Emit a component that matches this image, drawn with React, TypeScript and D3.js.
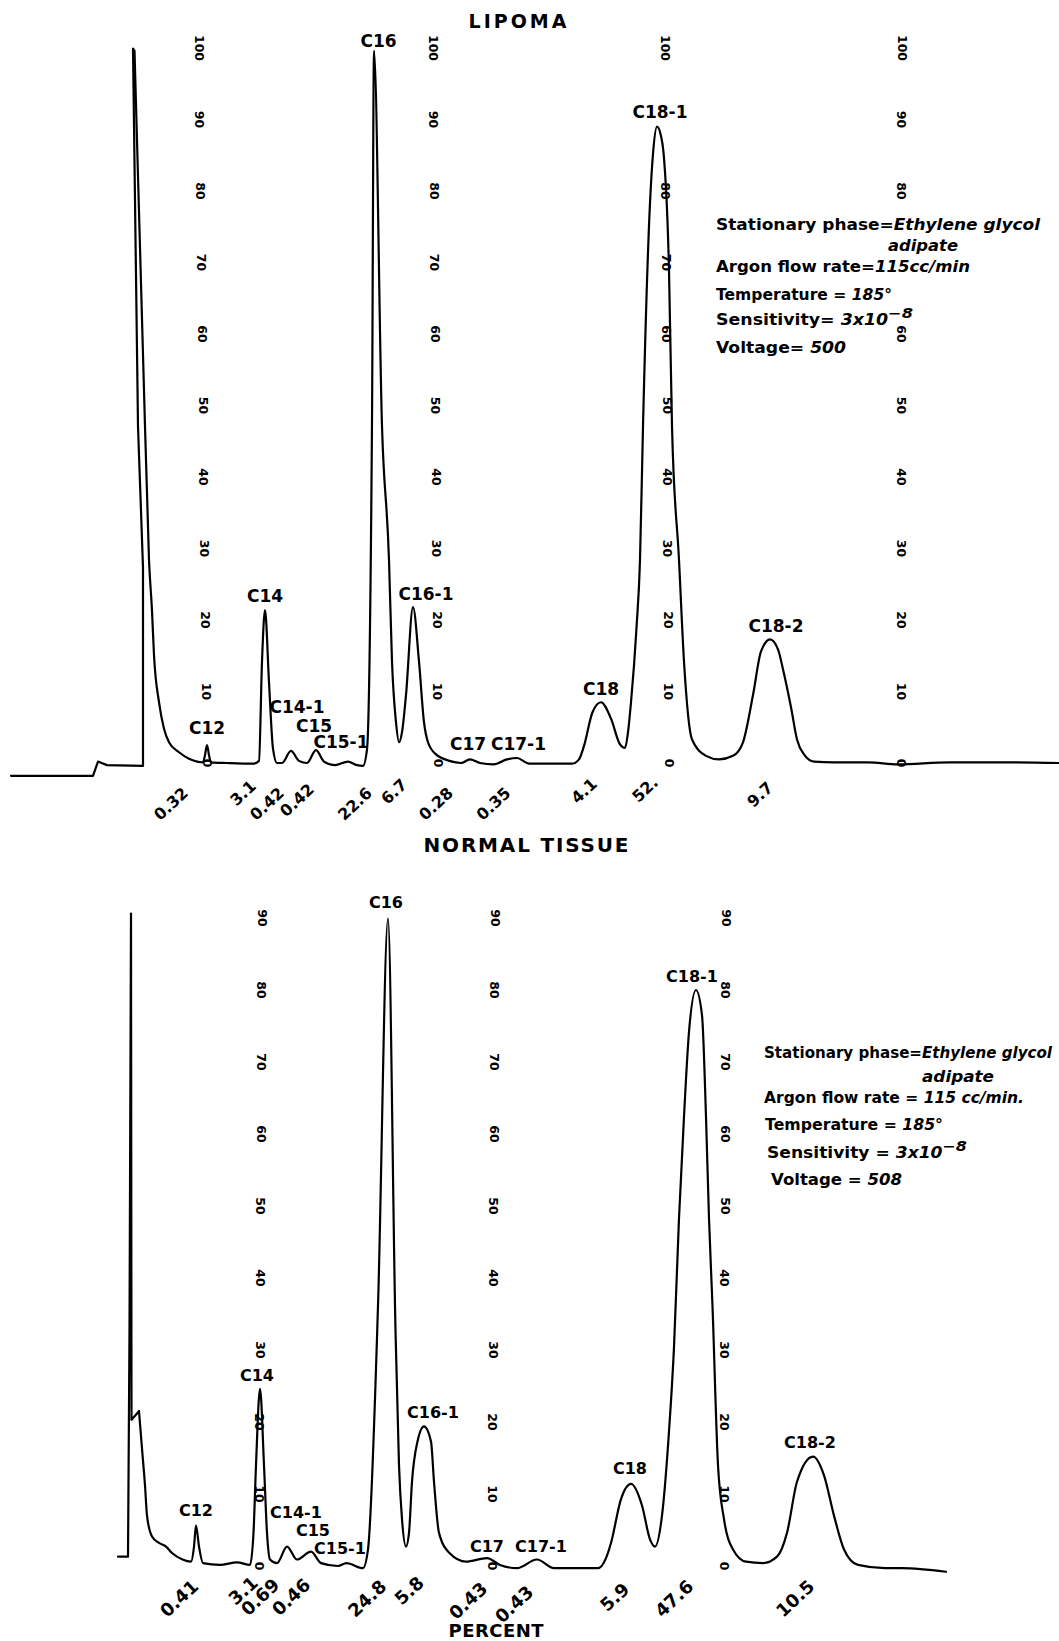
import React from "react";
import * as d3 from "d3";

// ---------- data (retention in chart divisions, response in scale units) ----------
// pen trace up to the solvent front (drawn with straight strokes)
const lipomaFront: [number, number][] = [
  [0.1, -1.8], [8.3, -1.8], [8.5, -1.0], [8.8, 0.2], [9.7, -0.3], [13.3, -0.4], [13.3, 27.3], [12.8, 47.1],
  [12.3, 99.9], [12.45, 99.6], [13.5, 47.1],
];
// rest of the trace (smooth)
const lipomaTrace: [number, number][] = [
  [13.5, 47.1], [13.9, 28.4], [14.2, 21.3], [14.4, 15.1], [14.9, 8.5], [15.4, 4.8],
  [15.9, 2.9], [16.9, 1.5], [17.9, 0.6], [19.3, 0.1], [19.5, 1.1], [19.7, 2.5], [19.9, 1.1], [20.1, 0.1],
  [21.7, 0.0], [24.3, -0.1], [24.9, 0.3], [25.2, 14.2], [25.5, 21.4], [25.9, 11.3], [26.3, 2.0], [26.7, 0.0],
  [27.2, 0.0], [28.1, 1.7], [28.9, 0.3], [29.7, 0.0], [30.6, 1.8], [31.4, 0.2], [32.5, -0.3], [33.8, 0.2],
  [34.7, -0.3], [35.3, -0.4], [35.7, 1.9], [36.2, 47.7], [36.4, 99.6], [37.2, 47.1], [37.9, 28.4], [38.2, 14.2],
  [38.6, 5.7], [38.9, 2.9], [39.2, 4.3], [39.6, 9.5], [40.3, 21.8], [40.9, 14.2], [41.4, 5.7], [41.8, 2.9],
  [42.6, 1.2], [43.95, 0.3], [45.1, 0], [46.0, 0.5], [47.0, 0], [48.35, -0.2], [49.7, 0.5], [50.7, 0.7],
  [51.7, 0], [52.0, -0.1], [56.2, -0.1], [56.9, 0.5], [57.4, 2.4], [58.25, 7.1], [59.1, 8.5], [60.1, 6.2],
  [61.0, 2.6], [61.5, 2.1], [61.8, 4.3], [62.1, 8.5], [62.65, 18.9], [63.0, 28.4], [63.3, 47.1], [64.0, 78.3],
  [64.3, 85.2], [64.7, 89.0], [65.1, 87.7], [65.35, 85.4], [65.9, 68.9], [66.2, 47.1], [66.9, 28.4], [67.4, 14.2],
  [68.2, 3.3], [69.6, 1.0], [70.9, 0.5], [72.3, 1.0], [73.3, 2.9], [74.3, 9.5], [75.1, 15.6], [76.0, 17.3],
  [76.8, 15.9], [77.35, 12.8], [78.1, 7.8], [78.7, 3.3], [79.4, 1.2], [80.4, 0.2], [82.4, 0.1], [85.8, 0.1],
  [88.8, -0.2], [93.9, 0.1], [99.3, 0.1], [104.9, 0.0],
];

const normalFront: [number, number][] = [
  [10.8, 1.3], [11.8, 1.3], [11.95, 32.8], [12.1, 90.6], [12.15, 20.3], [12.9, 21.5],
];
const normalTrace: [number, number][] = [
  [12.9, 21.5], [13.2, 16.3], [13.5, 11.2],
  [13.7, 7.0], [14.2, 4.1], [14.9, 3.2], [15.6, 2.7], [16.2, 1.8], [17.25, 0.9], [18.1, 0.6], [18.4, 2.7],
  [18.6, 5.6], [18.9, 2.7], [19.3, 0.4], [21.0, 0.15], [22.7, 0.5], [24.0, 0.15], [24.35, 4.6], [24.6, 14.0],
  [25.0, 24.6], [25.4, 14.0], [25.7, 4.6], [26.0, 0.9], [26.7, 0.4], [27.7, 2.7], [28.7, 0.9], [30.1, 2.0],
  [31.1, 0.4], [32.8, 0], [33.65, 0.4], [35.3, -0.3], [35.8, 2.3], [36.8, 36.1], [37.8, 89.9],
  [38.55, 32.8], [38.9, 14.0], [39.2, 6.5], [39.6, 2.7], [39.9, 4.6], [40.2, 11.7], [40.75, 17.3], [41.4, 19.4],
  [42.1, 17.3], [42.4, 11.7], [42.9, 4.6], [43.95, 1.8], [45.6, 0.6], [47.7, 1.1], [49.0, 0.15], [50.7, -0.3], [52.7, 0.9],
  [54.4, -0.3], [58.8, -0.3], [59.6, 1.1], [60.1, 3.2], [61.1, 9.3], [62.1, 11.4], [63.2, 8.4], [64.0, 3.7],
  [64.5, 2.7], [65.2, 7.0], [65.9, 18.7], [66.4, 30.4], [66.9, 48.3], [67.4, 62.4], [67.9, 74.2],
  [68.6, 80.0], [69.2, 76.5], [69.6, 62.4], [69.9, 48.3], [70.25, 36.1], [70.8, 14.0], [71.4, 6.5],
  [72.3, 2.3], [73.6, 0.6], [75.3, 0.4], [76.7, 1.3], [77.7, 4.6], [78.7, 11.7], [80.3, 15.2], [81.4, 12.6],
  [82.4, 7.0], [83.4, 2.3], [84.8, 0.15], [87.5, -0.3], [89.2, -0.3], [93.6, -0.8],
];

const lipomaPeakNames = ["C12", "C14", "C14-1", "C15", "C15-1", "C16", "C16-1", "C17", "C17-1", "C18", "C18-1", "C18-2"];
const lipomaPeakU = [19.7, 25.5, 28.7, 30.4, 33.1, 36.85, 41.6, 45.8, 50.85, 59.1, 65.0, 76.6];
const lipomaPeakV = [4.9, 23.4, 7.8, 5.2, 2.9, 101.0, 23.7, 2.6, 2.6, 10.4, 91.1, 19.2];

const normalPeakNames = ["C12", "C14", "C14-1", "C15", "C15-1", "C16", "C16-1", "C17", "C17-1", "C18", "C18-1", "C18-2"];
const normalPeakU = [18.6, 24.7, 28.6, 30.3, 33.0, 37.6, 42.3, 47.7, 53.1, 62.0, 68.2, 80.0];
const normalPeakV = [7.7, 26.5, 7.5, 4.9, 2.4, 92.2, 21.3, 2.7, 2.7, 13.5, 81.9, 17.1];

const lipomaPercents = ["0.32", "3.1", "0.42", "0.42", "22.6", "6.7", "0.28", "0.35", "4.1", "52.", "9.7"];
const lipomaPercentU = [16.1, 23.3, 25.7, 28.7, 34.5, 38.4, 42.6, 48.35, 57.4, 63.5, 75.0];
const lipomaPercentV = [-5.7, -4.2, -5.7, -5.2, -5.7, -4.0, -5.7, -5.7, -3.9, -3.7, -4.4];

const normalPercents = ["0.41", "3.1", "0.69", "0.46", "24.8", "5.8", "0.43", "0.43", "5.9", "47.6", "10.5"];
const normalPercentU = [16.9, 23.3, 25.0, 28.1, 35.7, 39.9, 45.8, 50.4, 60.45, 66.4, 78.5];
const normalPercentV = [-4.5, -3.4, -4.3, -4.3, -4.5, -3.4, -4.8, -5.3, -4.3, -4.5, -4.5];

const lipomaScaleTicks = [0, 10, 20, 30, 40, 50, 60, 70, 80, 90, 100];
const normalScaleTicks = [0, 10, 20, 30, 40, 50, 60, 70, 80, 90];
// chart-paper scale columns: retention at scale 0 and at top of scale, plus hidden ticks
const lipomaColumnsU0 = [19.7, 42.8, 65.9, 89.1];
const lipomaColumnsU1 = [18.9, 42.3, 65.5, 89.2];
const lipomaColumnsHidden = [[], [], [90], [70]];
const normalColumnsU0 = [24.9, 48.2, 71.4];
const normalColumnsU1 = [25.2, 48.5, 71.6];

const lipomaConditions = [
  { label: "Stationary phase=", value: "Ethylene glycol", sup: "" },
  { label: "", value: "adipate", sup: "" },
  { label: "Argon flow rate=", value: "115cc/min", sup: "" },
  { label: "Temperature = ", value: "185°", sup: "" },
  { label: "Sensitivity= ", value: "3x10", sup: "−8" },
  { label: "Voltage= ", value: "500", sup: "" },
];
const normalConditions = [
  { label: "Stationary phase=", value: "Ethylene glycol", sup: "" },
  { label: "", value: "adipate", sup: "" },
  { label: "Argon flow rate = ", value: "115 cc/min.", sup: "" },
  { label: "Temperature = ", value: "185°", sup: "" },
  { label: "Sensitivity = ", value: "3x10", sup: "−8" },
  { label: "Voltage = ", value: "508", sup: "" },
];

// ---------- layout ----------
const W = 1059;
const H = 1641;
const FONT = "'DejaVu Sans', 'Liberation Sans', Arial, sans-serif";

const x = d3.scaleLinear().domain([0, 105]).range([10, 1060]);
const yTop = d3.scaleLinear().domain([0, 100]).range([763, 48]);
const yBot = d3.scaleLinear().domain([0, 90]).range([1566, 918]);

const lineGen = (y: d3.ScaleLinear<number, number>, curve: d3.CurveFactory) =>
  d3
    .line<[number, number]>()
    .x((d) => x(d[0]))
    .y((d) => y(d[1]))
    .curve(curve);

type Cond = { label: string; value: string; sup: string };

function Conditions({ items, xs, ys, widths, size }: { items: Cond[]; xs: number[]; ys: number[]; widths: number[]; size: number }) {
  return (
    <g fontFamily={FONT} fontWeight="bold" fontSize={size} fill="#000">
      {items.map((c, i) => (
        <text key={i} x={xs[i]} y={ys[i]} dominantBaseline="central" textLength={widths[i]} lengthAdjust="spacingAndGlyphs">
          {c.label ? <tspan>{c.label}</tspan> : null}
          <tspan fontStyle="italic">{c.value}</tspan>
          {c.sup ? (
            <tspan fontStyle="italic" fontSize={size - 1} dy={-7}>
              {c.sup}
            </tspan>
          ) : null}
        </text>
      ))}
    </g>
  );
}

function ScaleColumns({ u0, u1, ticks, y, hidden }: { u0: number[]; u1: number[]; ticks: number[]; y: d3.ScaleLinear<number, number>; hidden: number[][] }) {
  const maxT = ticks[ticks.length - 1];
  return (
    <g fontFamily={FONT} fontWeight="bold" fontSize={12.5} fill="#000">
      {u0.map((b, ci) =>
        ticks
          .filter((t) => !(hidden[ci] || []).includes(t))
          .map((t) => {
            const u = b + (u1[ci] - b) * (t / maxT);
            return (
              <text key={ci + "-" + t} transform={`translate(${x(u)},${y(t)}) rotate(90)`} textAnchor="middle" dominantBaseline="central">
                {t}
              </text>
            );
          })
      )}
    </g>
  );
}

function PeakLabels({ names, us, vs, y, size }: { names: string[]; us: number[]; vs: number[]; y: d3.ScaleLinear<number, number>; size: number }) {
  return (
    <g fontFamily={FONT} fontWeight="bold" fontSize={size} fill="#000">
      {names.map((n, i) => (
        <text key={n} x={x(us[i])} y={y(vs[i])} textAnchor="middle" dominantBaseline="central">
          {n}
        </text>
      ))}
    </g>
  );
}

function PercentLabels({ labels, us, vs, y, size }: { labels: string[]; us: number[]; vs: number[]; y: d3.ScaleLinear<number, number>; size: number }) {
  return (
    <g fontFamily={FONT} fontWeight="bold" fontSize={size} fill="#000">
      {labels.map((l, i) => (
        <text key={i} transform={`translate(${x(us[i])},${y(vs[i])}) rotate(-43)`} textAnchor="middle" dominantBaseline="central">
          {l}
        </text>
      ))}
    </g>
  );
}

export default function App() {
  const topFront = lineGen(yTop, d3.curveLinear)(lipomaFront) || "";
  const topPath = lineGen(yTop, d3.curveMonotoneX)(lipomaTrace) || "";
  const botFront = lineGen(yBot, d3.curveLinear)(normalFront) || "";
  const botPath = lineGen(yBot, d3.curveMonotoneX)(normalTrace) || "";
  const stroke = { fill: "none", stroke: "#000", strokeWidth: 2.2, strokeLinejoin: "round" as const, strokeLinecap: "round" as const };
  return (
    <svg width={W} height={H} viewBox={`0 0 ${W} ${H}`} style={{ position: "absolute", left: 0, top: 0, background: "#fff" }}>
      <rect width={W} height={H} fill="#fff" />

      {/* ---------------- LIPOMA ---------------- */}
      <text x={519} y={21} textAnchor="middle" dominantBaseline="central" fontFamily={FONT} fontWeight="bold" fontSize={19} letterSpacing={3}>
        LIPOMA
      </text>
      <ScaleColumns u0={lipomaColumnsU0} u1={lipomaColumnsU1} ticks={lipomaScaleTicks} y={yTop} hidden={lipomaColumnsHidden} />
      <path d={topFront} {...stroke} />
      <path d={topPath} {...stroke} />
      <PeakLabels names={lipomaPeakNames} us={lipomaPeakU} vs={lipomaPeakV} y={yTop} size={17} />
      <PercentLabels labels={lipomaPercents} us={lipomaPercentU} vs={lipomaPercentV} y={yTop} size={16} />
      <Conditions
        items={lipomaConditions}
        xs={[716, 888, 716, 716, 716, 716]}
        ys={[225, 246, 267, 295, 320, 348]}
        widths={[324, 70, 254, 176, 197, 130]}
        size={15}
      />

      {/* ---------------- NORMAL TISSUE ---------------- */}
      <text x={526} y={845} textAnchor="middle" dominantBaseline="central" fontFamily={FONT} fontWeight="bold" fontSize={20} textLength={205} lengthAdjust="spacing">
        NORMAL TISSUE
      </text>
      <ScaleColumns u0={normalColumnsU0} u1={normalColumnsU1} ticks={normalScaleTicks} y={yBot} hidden={[[], [], []]} />
      <path d={botFront} {...stroke} />
      <path d={botPath} {...stroke} />
      <PeakLabels names={normalPeakNames} us={normalPeakU} vs={normalPeakV} y={yBot} size={16} />
      <PercentLabels labels={normalPercents} us={normalPercentU} vs={normalPercentV} y={yBot} size={18} />
      <Conditions
        items={normalConditions}
        xs={[764, 922, 764, 765, 767, 771]}
        ys={[1053, 1077, 1098, 1125, 1153, 1180]}
        widths={[288, 72, 260, 178, 200, 131]}
        size={15}
      />
      <text x={496} y={1630} textAnchor="middle" dominantBaseline="central" fontFamily={FONT} fontWeight="bold" fontSize={18} textLength={95} lengthAdjust="spacing">
        PERCENT
      </text>
    </svg>
  );
}
